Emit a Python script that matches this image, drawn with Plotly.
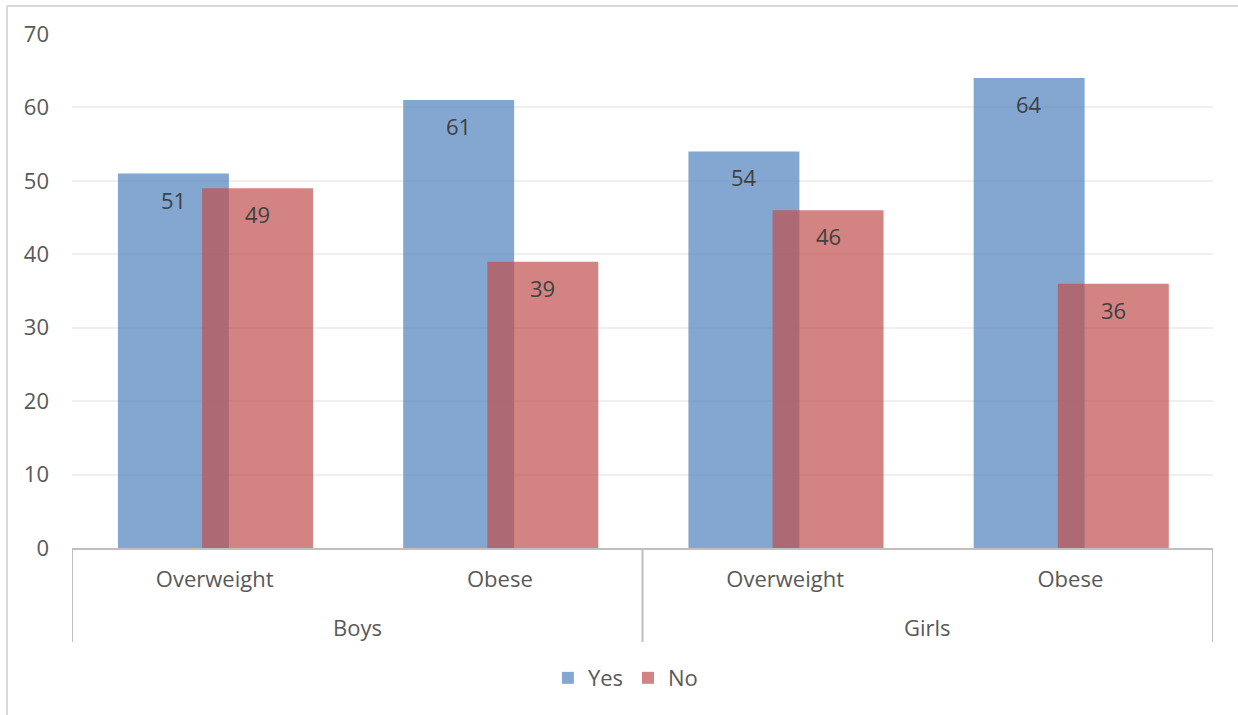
import plotly.graph_objects as go

groups = ["Boys", "Boys", "Girls", "Girls"]
subcats = ["Overweight", "Obese", "Overweight", "Obese"]
yes_vals = [51, 61, 54, 64]
no_vals = [49, 39, 46, 36]
y_ticks = [0, 10, 20, 30, 40, 50, 60, 70]

FONT = "Open Sans"
TXT = "#595959"
FS = 22
BAR_W = 0.389
OFF_YES = -0.339
OFF_NO = -0.044

xs = list(range(len(subcats)))

fig = go.Figure()
fig.add_trace(go.Bar(
    x=xs, y=yes_vals, name="Yes",
    marker=dict(color="rgba(79,129,189,0.7)", line=dict(width=0)),
    width=BAR_W, offset=OFF_YES,
))
fig.add_trace(go.Bar(
    x=xs, y=no_vals, name="No",
    marker=dict(color="rgba(192,80,77,0.7)", line=dict(width=0)),
    width=BAR_W, offset=OFF_NO,
))

# data labels
for vals, off in ((yes_vals, OFF_YES), (no_vals, OFF_NO)):
    for xi, v in zip(xs, vals):
        fig.add_annotation(x=xi + off + BAR_W / 2, y=v, yshift=-26, text=str(v),
                           showarrow=False, xanchor="center", yanchor="middle",
                           font=dict(family=FONT, size=FS, color="#404040"))

# group labels and dividers
group_names = []
for g in groups:
    if g not in group_names:
        group_names.append(g)
for g in group_names:
    idx = [i for i, gg in enumerate(groups) if gg == g]
    fig.add_annotation(x=(idx[0] + idx[-1]) / 2, y=0, yref="paper", yshift=-79,
                       text=g, showarrow=False, xanchor="center", yanchor="middle",
                       font=dict(family=FONT, size=FS, color=TXT))
bounds = [-0.5] + [i + 0.5 for i in range(len(groups) - 1) if groups[i] != groups[i + 1]] + [len(groups) - 0.5]
for b in bounds:
    fig.add_shape(type="line", xref="x", yref="paper", x0=b, x1=b, y0=0, y1=(548 - 642) / 514,
                  line=dict(color="#BFBFBF", width=2))

fig.update_layout(
    width=1238, height=715,
    barmode="overlay",
    paper_bgcolor="white", plot_bgcolor="white",
    margin=dict(l=72, r=25, t=34, b=167),
    font=dict(family=FONT, size=FS, color=TXT),
    showlegend=True,
    legend=dict(orientation="h", x=0.485, xanchor="center", y=-0.253, yanchor="middle",
                font=dict(family=FONT, size=FS, color=TXT), itemwidth=30, tracegroupgap=0),
)
fig.update_yaxes(
    range=[0, 70], tickvals=y_ticks, showgrid=True, gridcolor="#EFEFEF", gridwidth=2,
    zeroline=False, showline=False, ticks="", tickfont=dict(family=FONT, size=FS, color=TXT),
    ticklabelstandoff=22,
)
fig.update_xaxes(
    range=[-0.5, len(subcats) - 0.5], tickvals=xs, ticktext=subcats,
    showline=True, linecolor="#BFBFBF", linewidth=2, showgrid=False, zeroline=False,
    tickfont=dict(family=FONT, size=FS, color=TXT), ticks="", ticklabelstandoff=11,
)

# chart-area border (top and left edges visible)
fig.add_shape(type="line", xref="paper", yref="paper",
              x0=(7 - 72) / 1141, x1=(1238 - 72) / 1141, y0=(548 - 6) / 514, y1=(548 - 6) / 514,
              line=dict(color="#D9D9D9", width=2))
fig.add_shape(type="line", xref="paper", yref="paper",
              x0=(7 - 72) / 1141, x1=(7 - 72) / 1141, y0=(548 - 6) / 514, y1=(548 - 715) / 514,
              line=dict(color="#D9D9D9", width=2))

fig.write_html("out.html")
